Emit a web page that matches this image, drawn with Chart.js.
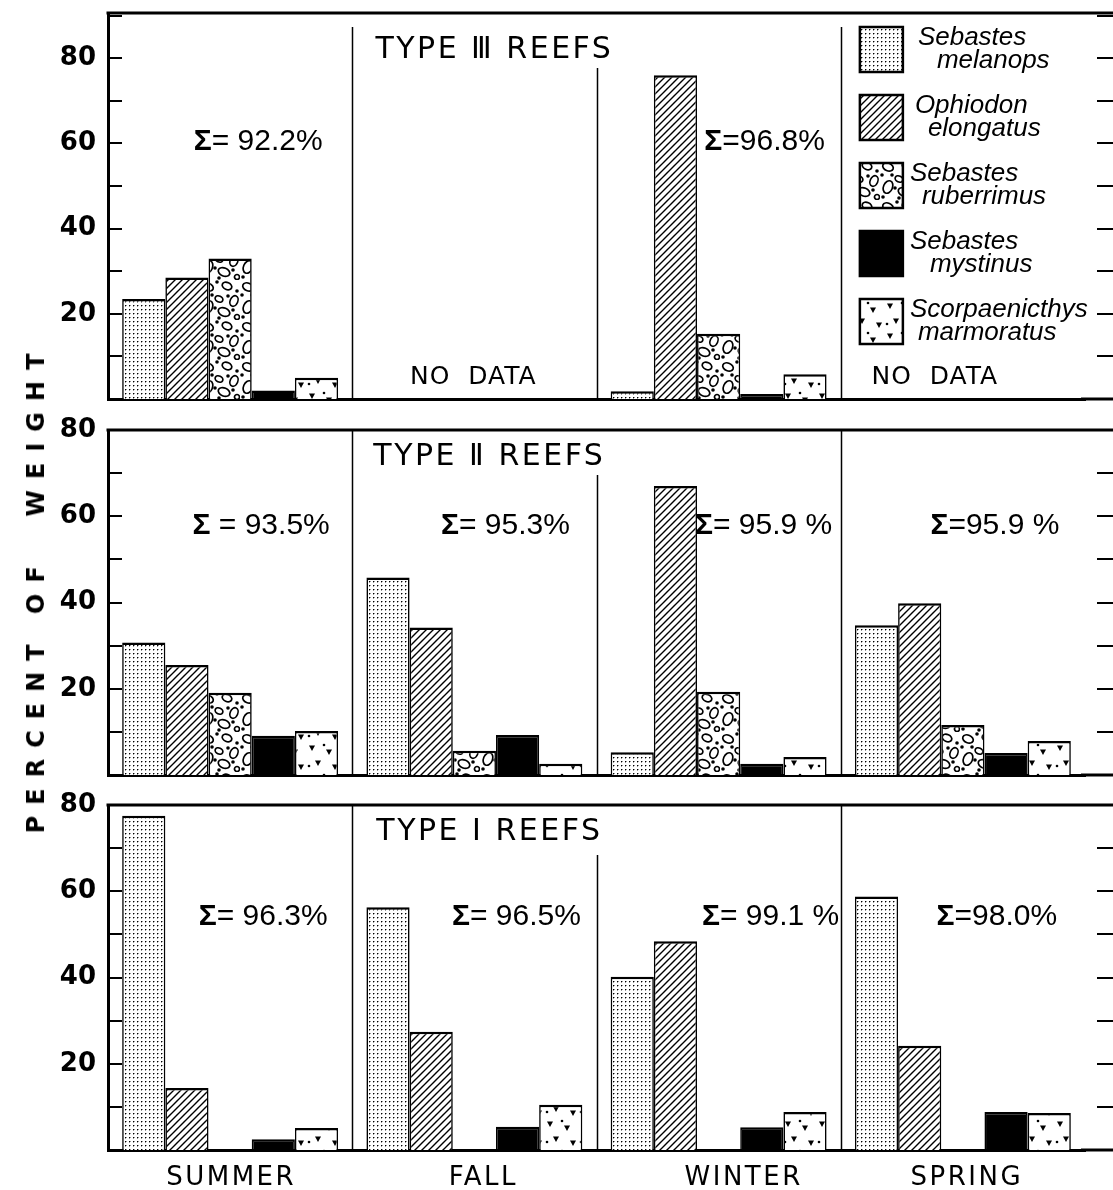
<!DOCTYPE html>
<html>
<head>
<meta charset="utf-8">
<script src="https://cdn.jsdelivr.net/npm/chart.js@4.4.1/dist/chart.umd.min.js"></script>
<style>
  html, body { margin: 0; padding: 0; background: #fff; }
  #page { position: relative; width: 1113px; height: 1190px; overflow: hidden; }
  canvas { position: absolute; left: 0; }
  #ylab {
    position: absolute; left: 36px; top: 588px;
    transform: translate(-50%, -50%) rotate(-90deg);
    white-space: nowrap; font: bold 24px "DejaVu Sans"; letter-spacing: 11px; color: #000;
  }
</style>
</head>
<body>
<div id="page">
  <canvas id="c1" width="1113" height="412" style="top:0px"></canvas>
  <canvas id="c2" width="1113" height="376" style="top:412px"></canvas>
  <canvas id="c3" width="1113" height="402" style="top:788px"></canvas>
  <div id="ylab">PERCENT&nbsp;OF&nbsp;&nbsp;WEIGHT</div>
</div>
<script>
const seasons = ['SUMMER', 'FALL', 'WINTER', 'SPRING'];
const species = [
  ['Sebastes', 'melanops'],
  ['Ophiodon', 'elongatus'],
  ['Sebastes', 'ruberrimus'],
  ['Sebastes', 'mystinus'],
  ['Scorpaenicthys', 'marmoratus']
];

// percent of weight, one row per species, one column per season (null = no data)
const typeIII = [
  [23.5, null, 1.8, null],
  [28.5, null, 76, null],
  [33, null, 15.3, null],
  [2, null, 1.2, null],
  [5, null, 5.8, null]
];
const typeII = [
  [30.7, 45.8, 5.3, 34.7],
  [25.5, 34.2, 67, 39.8],
  [19.1, 5.6, 19.3, 11.6],
  [9.1, 9.3, 2.6, 5.1],
  [10.2, 2.6, 4.2, 7.9]
];
const typeI = [
  [77.5, 56.3, 40.2, 58.8],
  [14.4, 27.4, 48.4, 24.2],
  [0, 0, 0, 0],
  [2.5, 5.4, 5.3, 8.8],
  [5.1, 10.5, 8.8, 8.6]
];

const sumsIII = ['Σ= 92.2%', null, 'Σ=96.8%', null];
const sumsII = ['Σ = 93.5%', 'Σ= 95.3%', 'Σ= 95.9 %', 'Σ=95.9 %'];
const sumsI = ['Σ= 96.3%', 'Σ= 96.5%', 'Σ= 99.1 %', 'Σ=98.0%'];

const titles = ['TYPE Ⅲ REEFS', 'TYPE Ⅱ REEFS', 'TYPE Ⅰ REEFS'];

// fill patterns
function makePattern(w, h, draw) {
  const c = document.createElement('canvas');
  c.width = w; c.height = h;
  const g = c.getContext('2d');
  g.fillStyle = '#fff';
  g.fillRect(0, 0, w, h);
  g.fillStyle = '#000';
  g.strokeStyle = '#000';
  draw(g);
  return g.createPattern(c, 'repeat');
}

const stipple = makePattern(4, 4, g => {
  g.fillRect(1, 1, 1, 1);
  g.fillStyle = '#999';
  g.fillRect(2, 1, 1, 1);
  g.fillRect(1, 2, 1, 1);
});

const hatch = makePattern(7, 7, g => {
  g.lineWidth = 1.4;
  g.beginPath();
  g.moveTo(0, 7); g.lineTo(7, 0);
  g.moveTo(-1, 1); g.lineTo(1, -1);
  g.moveTo(6, 8); g.lineTo(8, 6);
  g.stroke();
});

const pebbles = makePattern(40, 40, g => {
  g.lineWidth = 1.7;
  [[8, 7, 5.5, 3.8], [27, 6, 5, 3.5], [19, 19, 4, 3], [34, 21, 3.8, 5.5], [8, 27, 4.5, 6.5], [24, 32, 6, 4], [37, 37, 2.5, 2.5]]
    .forEach(([cx, cy, rx, ry]) => {
      g.beginPath(); g.ellipse(cx, cy, rx, ry, 0.4, 0, Math.PI * 2); g.stroke();
    });
  [[17, 2], [37, 11], [2, 15], [28, 16], [15, 28], [33, 30], [19, 38], [3, 37], [12, 15]]
    .forEach(([cx, cy]) => {
      g.beginPath(); g.arc(cx, cy, 1.8, 0, Math.PI * 2); g.fill();
    });
});

const specks = makePattern(34, 30, g => {
  [[6, 6], [23, 10], [12, 21], [29, 25]].forEach(([cx, cy]) => {
    g.beginPath(); g.moveTo(cx - 3, cy - 2.5); g.lineTo(cx + 3, cy - 2.5); g.lineTo(cx, cy + 3); g.closePath(); g.fill();
  });
  [[18, 3], [3, 24]].forEach(([cx, cy]) => {
    g.beginPath(); g.arc(cx, cy, 1.3, 0, Math.PI * 2); g.fill();
  });
});

const fills = [stipple, hatch, pebbles, '#000', specks];

function drawSigma(ctx, text, cx, cy) {
  const head = text.charAt(0), rest = text.slice(1);
  ctx.font = 'bold 30px "Liberation Sans"';
  const w1 = ctx.measureText(head).width;
  ctx.font = '30px "Liberation Sans"';
  const w2 = ctx.measureText(rest).width;
  const x0 = cx - (w1 + w2) / 2;
  ctx.textAlign = 'left';
  ctx.font = 'bold 30px "Liberation Sans"';
  ctx.fillText(head, x0, cy);
  ctx.font = '30px "Liberation Sans"';
  ctx.fillText(rest, x0 + w1, cy);
}

const deco = {
  id: 'deco',
  beforeDatasetsDraw(chart, args, o) {
    // season dividers, half way between category centres
    const { ctx, chartArea: a, scales: { x } } = chart;
    ctx.save();
    ctx.strokeStyle = '#000';
    ctx.lineWidth = 1.5;
    ctx.beginPath();
    for (let i = 1; i < seasons.length; i++) {
      const px = Math.round((x.getPixelForValue(i - 1) + x.getPixelForValue(i)) / 2) + 0.5;
      ctx.moveTo(px, a.top + o.divTop[i - 1]);
      ctx.lineTo(px, a.bottom);
    }
    ctx.stroke();
    ctx.restore();
  },
  afterDraw(chart, args, o) {
    const { ctx, chartArea: a, scales: { x, y } } = chart;
    const W = chart.width;
    ctx.save();

    // keep the strip at the right end of the plot area clear
    ctx.fillStyle = '#fff';
    ctx.fillRect(a.right - 3, a.top + 2, 8, a.bottom - a.top - 4);

    ctx.strokeStyle = '#000';
    ctx.fillStyle = '#000';

    // frame lines running off the right edge
    ctx.lineWidth = 3;
    ctx.beginPath();
    ctx.moveTo(a.left - 1.5, a.top); ctx.lineTo(W, a.top);
    ctx.stroke();
    ctx.beginPath();
    ctx.moveTo(a.right - 4, a.bottom); ctx.lineTo(W, a.bottom);
    ctx.stroke();

    // inward ticks on both sides
    ctx.lineWidth = 2;
    ctx.beginPath();
    for (let v = 10; v <= y.max; v += 10) {
      const py = Math.round(y.getPixelForValue(v));
      ctx.moveTo(a.left, py); ctx.lineTo(a.left + 14, py);
      ctx.moveTo(W - 16, py); ctx.lineTo(W, py);
    }
    ctx.stroke();

    ctx.textBaseline = 'middle';

    // panel title
    ctx.font = '30px "DejaVu Sans"';
    ctx.letterSpacing = '2.5px';
    ctx.textAlign = 'center';
    ctx.fillText(o.title, x.getPixelForValue(1) + o.titleDx, a.top + o.titleDy);
    ctx.letterSpacing = '0px';

    // sums per season
    o.sums.forEach((s, i) => {
      if (!s) return;
      drawSigma(ctx, s, x.getPixelForValue(i) + o.sumDx[i], y.getPixelForValue(o.sumAt));
    });

    // NO DATA where a season has no values
    ctx.font = '25px "DejaVu Sans"';
    ctx.letterSpacing = '1px';
    ctx.textAlign = 'center';
    seasons.forEach((s, i) => {
      const empty = chart.data.datasets.every(d => d.data[i] === null);
      if (empty) ctx.fillText('NO  DATA', x.getPixelForValue(i) + o.noDataDx[i], y.getPixelForValue(5));
    });
    ctx.letterSpacing = '0px';

    // legend
    if (o.legend) {
      const lx = x.getPixelForValue(3) - 103;
      chart.data.datasets.forEach((d, k) => {
        const sy = a.top + 14 + k * 68;
        ctx.fillStyle = d.backgroundColor;
        ctx.fillRect(lx, sy, 43, 45);
        ctx.lineWidth = 2.5;
        ctx.strokeRect(lx, sy, 43, 45);
        ctx.fillStyle = '#000';
        ctx.textAlign = 'left';
        ctx.font = 'italic 26px "Liberation Sans"';
        ctx.fillText(species[k][0], lx + 43 + o.legendIn1[k], sy + 11);
        ctx.fillText(species[k][1], lx + 43 + o.legendIn2[k], sy + 34);
      });
    }

    // season names under the last panel
    if (o.seasonLabels) {
      ctx.font = '26px "DejaVu Sans"';
      ctx.letterSpacing = '2.5px';
      ctx.textAlign = 'center';
      seasons.forEach((s, i) => ctx.fillText(s, x.getPixelForValue(i) + o.seasonDx[i], a.bottom + 28));
      ctx.letterSpacing = '0px';
    }
    ctx.restore();
  }
};

function panel(id, values, yMax, pad, deco_opts) {
  return new Chart(document.getElementById(id), {
    type: 'bar',
    data: {
      labels: seasons,
      datasets: species.map((sp, i) => ({
        label: sp.join(' '),
        data: values[i],
        backgroundColor: fills[i],
        borderColor: '#000',
        borderWidth: { top: 2.5, left: 1.6, right: 1.6, bottom: 0 },
        borderSkipped: false
      }))
    },
    options: {
      responsive: false,
      animation: false,
      events: [],
      layout: { padding: { top: pad[0], bottom: pad[1], left: 0, right: 28 } },
      datasets: { bar: { categoryPercentage: 0.884, barPercentage: 1 } },
      plugins: {
        legend: { display: false },
        tooltip: { enabled: false },
        deco: deco_opts
      },
      scales: {
        x: {
          ticks: { display: false },
          grid: { display: false, drawTicks: false },
          border: { color: '#000', width: 3 },
          afterFit: s => { s.height = 0; s.paddingLeft = 0; s.paddingRight = 0; }
        },
        y: {
          min: 0,
          max: yMax,
          grid: { display: false, drawTicks: false },
          border: { color: '#000', width: 3 },
          ticks: {
            stepSize: 10,
            includeBounds: false,
            padding: 12,
            color: '#000',
            font: { family: 'DejaVu Sans', size: 26, weight: 'bold' },
            callback: v => (v > 0 && v % 20 === 0) ? v : ''
          },
          afterFit: s => { s.width = 108; s.paddingTop = 0; s.paddingBottom = 0; }
        }
      }
    },
    plugins: [deco]
  });
}

const legendIn1 = [15, 12, 7, 7, 7];
const legendIn2 = [34, 25, 19, 27, 15];

panel('c1', typeIII, 90.6, [13, 13], {
  title: titles[0], titleDx: 20, titleDy: 37, divTop: [14, 55, 14],
  sums: sumsIII, sumDx: [28, 31, 46, 33], sumAt: 60.5,
  noDataDx: [0, -1, 0, -28],
  legend: true, legendIn1, legendIn2
});
panel('c2', typeII, 80, [18, 13], {
  title: titles[1], titleDx: 15, titleDy: 27, divTop: [0, 45, 0],
  sums: sumsII, sumDx: [31, 31, 45, 32], sumAt: 57.7,
  noDataDx: [0, 0, 0, 0]
});
panel('c3', typeI, 80, [17, 40], {
  title: titles[2], titleDx: 15, titleDy: 27, divTop: [0, 50, 0],
  sums: sumsI, sumDx: [33, 42, 52, 34], sumAt: 54,
  noDataDx: [0, 0, 0, 0],
  seasonLabels: true, seasonDx: [1, 9, 25, 4]
});
</script>
</body>
</html>
